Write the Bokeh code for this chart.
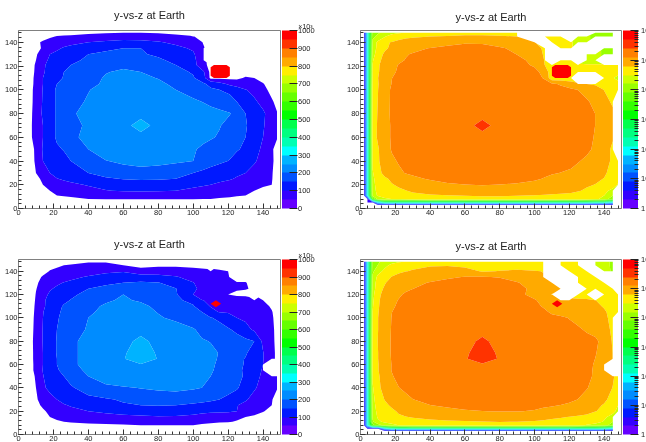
import numpy as np
from bokeh.embed import file_html
from bokeh.resources import INLINE
from bokeh.plotting import figure
from bokeh.layouts import column, row
from bokeh.models import (ColorBar, LinearColorMapper, LogColorMapper, FixedTicker,
                          SingleIntervalTicker, Range1d, Title)

n = float("nan")
TITLE = "y-vs-z at Earth"
EXPONENT = "×10³"
PALETTE = ['#6600ff', '#3300ff', '#0019ff', '#0053ff', '#008cff', '#00b3ff', '#00ffff', '#00ffb3',
           '#00ff80', '#00ff4d', '#00ff00', '#33ff00', '#66ff00', '#99ff00', '#ccff00', '#ffee00',
           '#ffaa00', '#ff8000', '#ff3300', '#ff0000']
linear_ticks = [0, 100, 200, 300, 400, 500, 600, 700, 800, 900, 1000]
log_ticks = [1, 10, 100, 1000, 10000, 100000, 1000000]
log_tick_labels = ["1", "10", "10²", "10³", "10⁴", "10⁵", "10⁶"]

# values in thousands
x_top = [2, 4, 7, 10, 14, 18, 22, 26, 30, 40, 50, 60, 70, 80, 90, 100, 106, 110, 115, 121, 125, 130, 135, 140, 145, 148]
y_top = [3, 5, 8, 11, 15, 20, 25, 30, 40, 50, 60, 70, 80, 90, 100, 105, 110, 115, 121, 125, 130, 135, 140, 145, 148]
z_top = [
    [n, n, n] + [.002] * 22 + [n],
    [n, .002, .002, .05, .2, .2, .2, .2, .2, .2, .2, .2, .2, .2, .2, .2, .2, .2, .2, .2, .2, .2, .15, .15, .05, n],
    [n, .002, 4, 20, 28, 32, 36, 38, 42, 50, 53, 55, 55, 55, 54, 52, 51, 50, 48, 46, 44, 42, 38, 24, 10, n],
    [.002, .1, 20, 35, 42, 47, 50, 53, 56, 60, 62, 64, 66, 66, 64, 62, 60, 58, 56, 54, 52, 50, 44, 32, 16, n],
    [.002, .1, 24, 38, 46, 50, 56, 62, 68, 80, 98, 104, 106, 105, 100, 92, 86, 82, 78, 72, 66, 58, 50, 40, 24, n],
    [.002, .1, 26, 40, 50, 60, 70, 78, 88, 105, 118, 125, 128, 125, 118, 108, 104, 100, 92, 84, 78, 68, 62, 56, 50, 30],
    [.002, .1, 28, 42, 56, 72, 98, 108, 115, 132, 145, 152, 155, 155, 150, 135, 122, 115, 110, 104, 96, 80, 70, 62, 52, 35],
    [.002, .1, 30, 50, 78, 100, 118, 128, 135, 150, 165, 175, 180, 176, 165, 150, 138, 130, 125, 115, 108, 100, 85, 68, 53, 35],
    [.002, .1, 36, 56, 100, 118, 130, 140, 150, 172, 198, 210, 218, 215, 208, 200, 185, 170, 158, 148, 130, 115, 105, 85, 55, 40],
    [.002, .1, 36, 58, 105, 130, 145, 152, 160, 200, 225, 238, 245, 242, 228, 205, 190, 180, 170, 162, 155, 140, 115, 92, 54, 40],
    [.002, .1, 44, 70, 100, 135, 155, 170, 188, 215, 235, 240, 240, 240, 240, 225, 212, 205, 195, 180, 165, 150, 120, 100, 68, 52],
    [.002, .1, 45, 68, 100, 135, 155, 170, 185, 208, 235, 240, 262, 240, 238, 230, 220, 210, 203, 185, 168, 155, 125, 105, 72, 52],
    [.002, .1, 44, 66, 108, 135, 155, 178, 192, 218, 232, 240, 240, 238, 235, 228, 220, 215, 210, 202, 185, 150, 125, 108, 75, 52],
    [.002, .1, 42, 64, 105, 135, 155, 170, 185, 205, 225, 235, 238, 232, 222, 208, 198, 190, 180, 168, 150, 135, 108, 85, 55, 40],
    [.002, .1, 42, 62, 103, 135, 155, 165, 175, 198, 215, 222, 225, 218, 200, 180, 165, 155, 150, 138, 125, 102, 85, 62, 38, 35],
    [.002, .1, 40, 60, 100, 128, 150, 160, 170, 192, 205, 218, 222, 210, 190, 165, 155, 140, 118, 90, 75, 62, 58, 52, 36, 34],
    [.002, .1, 36, 62, 100, 125, 142, 152, 162, 185, 204, 212, 210, 198, 175, 155, 118, 38, 38, 38, 42, 54, 50, 38, 32, 30],
    [.002, .1, 34, 58, 94, 118, 132, 150, 160, 178, 198, 206, 200, 180, 165, 145, 105, 36, 36, 36, 36, 34, 34, 34, 34, 34],
    [.002, .1, 32, 56, 92, 115, 128, 138, 150, 168, 182, 192, 192, 175, 150, 118, 62, 36, 36, 36, 36, 34, 34, 34, 34, 34],
    [.002, .1, 30, 50, 85, 108, 118, 128, 140, 158, 172, 178, 175, 158, 138, 115, 60, n, 36, 36, n, 20, 20, n, n, n],
    [.002, .1, 24, 45, 72, 100, 112, 122, 130, 150, 160, 165, 155, 142, 125, 108, 55, n, n, n, n, 20, 20, 14, 14, n],
    [.002, .1, 22, 38, 55, 75, 92, 105, 112, 128, 140, 150, 150, 132, 115, 92, 52, n, 36, 36, n, n, n, 14, 14, n],
    [.002, .1, 18, 38, 58, 65, 72, 80, 88, 100, 110, 120, 118, 105, 88, 66, 48, 36, 36, 36, 20, 20, n, n, n, n],
    [.002, .1, 14, 18, 30, 45, 52, 56, 58, 63, 66, 70, 70, 68, 63, 52, 35, 36, 36, n, 20, 20, 11, 11, 11, n],
    [.002, .1, 12, 15, 18, 25, 30, 32, 35, 44, 48, 50, 50, 48, 40, n, n, n, n, n, n, n, 11, 11, 11, n],
]
log_blank_top = [(148, 50), (148, 60), (148, 70), (148, 80), (148, 90), (100, 145), (106, 140),
                 (125, 110), (130, 110), (135, 110)]
hot_x_top = [110, 112, 119, 121]
hot_y_top = [110, 112, 119, 121]
hot_z_top = [[0, 1000, 1000, 0], [1000, 1000, 1000, 1000], [1000, 1000, 1000, 1000], [0, 1000, 1000, 0]]

x_bot = [2, 4, 7, 10, 14, 18, 22, 26, 30, 40, 50, 60, 70, 80, 90, 100, 105, 110, 115, 120, 125, 130, 135, 140, 145, 148]
y_bot = [3, 5, 8, 11, 15, 20, 25, 30, 40, 50, 55, 60, 65, 70, 80, 90, 100, 105, 110, 115, 120, 125, 130, 135, 140, 145, 148]
z_bot = [
    [n, n, n, n] + [.002] * 21 + [n],
    [n, .002, .002, .002, .05, .15] + [.2] * 17 + [.15, .05, n],
    [.002, .1, 6, 12, 20, 26, 32, 36, 40, 44, 46, 48, 50, 52, 52, 50, 46, 44, 42, 40, 36, 30, 26, 20, 12, n],
    [.002, .1, 14, 28, 36, 42, 46, 50, 53, 56, 58, 60, 62, 64, 63, 60, 58, 55, 53, 52, 48, 46, 40, 30, 16, n],
    [.002, .1, 20, 34, 42, 50, 58, 62, 65, 72, 80, 88, 92, 96, 94, 85, 76, 70, 66, 62, 56, 50, 44, 36, 24, n],
    [.002, .1, 22, 38, 46, 56, 68, 78, 85, 100, 112, 120, 125, 128, 128, 122, 115, 112, 110, 108, 100, 85, 65, 52, 40, 25],
    [.002, .1, 24, 42, 55, 70, 85, 95, 105, 125, 135, 145, 150, 152, 150, 142, 135, 130, 125, 115, 102, 88, 72, 60, 50, 32],
    [.002, .1, 26, 45, 65, 85, 100, 115, 125, 138, 145, 155, 165, 172, 175, 168, 165, 158, 150, 140, 125, 105, 85, 70, 52, 38],
    [.002, .1, 30, 50, 92, 112, 125, 135, 145, 170, 188, 195, 202, 208, 212, 205, 200, 192, 175, 165, 155, 130, 105, 85, 62, 52],
    [.002, .1, 35, 55, 98, 122, 140, 150, 165, 200, 228, 242, 240, 232, 222, 210, 206, 200, 192, 170, 160, 145, 115, 92, 68, 52],
    [.002, .1, 40, 60, 102, 128, 145, 162, 180, 210, 235, 245, 248, 242, 232, 218, 210, 205, 190, 172, 162, 142, 118, 96, n, n],
    [.002, .1, 40, 60, 100, 128, 150, 168, 188, 218, 240, 240, 248, 240, 240, 225, 212, 205, 195, 178, 165, 145, 120, 100, n, n],
    [.002, .1, 40, 62, 100, 130, 150, 165, 190, 215, 245, 248, 270, 248, 235, 222, 212, 205, 198, 175, 160, 148, 125, 102, 62, 42],
    [.002, .1, 40, 62, 100, 132, 152, 168, 188, 218, 240, 245, 270, 245, 240, 228, 218, 210, 198, 182, 170, 155, 130, 102, 62, 42],
    [.002, .1, 40, 64, 102, 132, 152, 165, 190, 215, 238, 240, 258, 240, 232, 215, 205, 198, 188, 178, 168, 160, 150, 90, 60, 40],
    [.002, .1, 38, 62, 102, 130, 150, 165, 178, 205, 225, 238, 240, 232, 222, 205, 185, 175, 165, 155, 140, 115, 92, 75, 58, 40],
    [.002, .1, 34, 62, 100, 128, 148, 155, 168, 200, 215, 225, 222, 205, 190, 168, 160, 152, 142, 122, 100, 92, 82, 70, 55, 38],
    [.002, .1, 32, 60, 98, 125, 145, 155, 165, 195, 208, 218, 215, 198, 182, 158, 150, 112, 98, 95, 90, 85, 78, 68, 52, 38],
    [.002, .1, 30, 58, 92, 118, 135, 155, 165, 190, 205, 215, 210, 190, 175, 155, 118, 98, 92, 88, 84, 80, 72, 60, 46, 36],
    [.002, .1, 28, 55, 92, 115, 128, 140, 152, 172, 195, 205, 195, 178, 160, 135, 102, 92, 88, 80, 76, 72, 64, 50, 36, 34],
    [.002, .1, 26, 52, 82, 108, 120, 132, 140, 165, 185, 200, 190, 175, 155, 100, 72, 62, 58, 50, 40, 40, n, 34, 34, 34],
    [.002, .1, 22, 48, 70, 95, 108, 118, 125, 150, 162, 172, 175, 165, 152, 108, 90, 75, 66, 58, 56, 52, 46, 36, 36, n],
    [.002, .1, 20, 45, 60, 82, 92, 102, 110, 130, 142, 150, 155, 152, 130, 102, 82, 70, 60, 55, 52, 52, 36, 36, n, n],
    [.002, .1, 18, 38, 54, 64, 72, 80, 88, 105, 118, 128, 130, 122, 105, 78, 66, 62, 56, 52, 36, 36, 36, n, n, n],
    [.002, .1, 14, 24, 38, 52, 58, 62, 66, 78, 90, 95, 58, 65, 70, 66, 62, 58, 55, 50, 36, 36, n, 22, 14, n],
    [.002, .1, 12, 16, 26, 38, 44, 50, 54, 60, 60, 50, 44, 45, 44, 38, 36, n, 36, 36, 36, n, 22, 20, 14, n],
    [.002, .1, 12, 15, 18, 25, 30, 32, 36, 48, 48, 42, 40, 38, 36, 36, 36, n, 36, 36, 36, n, 22, 20, 14, n],
]
log_blank_bot = [(115, 120), (120, 120), (115, 130), (148, 65), (148, 70), (148, 80), (148, 90), (148, 100),
                 (110, 140), (115, 140), (110, 135), (115, 135), (120, 135), (120, 130), (125, 125)]
hot_x_bot = [110, 113, 116]
hot_y_bot = [109, 112, 115]
hot_z_bot = [[0, 951, 0], [951, 1000, 951], [0, 951, 0]]

FONT = "Liberation Sans"
TEXT = "#222222"


def panel(x, y, z, hx, hy, hz, log, blanks, top_border, bottom_border, left_border, right_border, width):
    p = figure(width=width, height=top_border + FRAME_H[top_border] + bottom_border,
               x_range=Range1d(0, 150), y_range=Range1d(0, 150),
               output_backend="svg", toolbar_location=None, title=TITLE,
               min_border_top=top_border, min_border_bottom=bottom_border,
               min_border_left=left_border, min_border_right=right_border,
               background_fill_color="white", border_fill_color="white")
    p.margin = 0
    p.title.align = "center"
    p.title.text_font = FONT
    p.title.text_font_size = "11px"
    p.title.text_font_style = "normal"
    p.title.text_color = TEXT
    p.title.standoff = 15 if log else 0
    p.grid.visible = False
    p.outline_line_color = "#808080"
    for ax in (p.xaxis[0], p.yaxis[0]):
        ax.ticker = SingleIntervalTicker(interval=20, num_minor_ticks=5)
        ax.major_tick_in = 5
        ax.major_tick_out = 0
        ax.minor_tick_in = 3
        ax.minor_tick_out = 0
        ax.major_label_standoff = 1
        ax.major_label_text_font = FONT
        ax.major_label_text_font_size = "7.5px"
        ax.major_label_text_color = TEXT
        ax.axis_line_color = "#808080"
        ax.major_tick_line_color = "#333333"
        ax.minor_tick_line_color = "#333333"
    p.yaxis[0].major_label_orientation = "horizontal"

    zz = np.array(z, dtype=float)
    if log:
        for bx, by in blanks:
            zz[y.index(by), x.index(bx)] = np.nan
        field = np.log10(zz * 1000.0)
        levels = [0.3 * i for i in range(21)]
        colors = PALETTE
    else:
        field = zz
        levels = [50 * i for i in range(1, 21)]
        colors = PALETTE[1:]
    p.contour(x, y, np.ma.masked_invalid(field), levels, fill_color=colors, line_color=None)
    p.contour(hx, hy, np.array(hz, dtype=float), [950, 1001], fill_color=["#ff0000"], line_color=None)

    fw = width - left_border - right_border
    fh = FRAME_H[top_border]
    if log:
        mapper = LogColorMapper(palette=PALETTE, low=1, high=1000000)
        labels = dict(zip(log_ticks, log_tick_labels))
        ticker = FixedTicker(ticks=log_ticks, minor_ticks=[m * d for d in log_ticks[:-1] for m in range(2, 10)])
        standoff = 3
    else:
        mapper = LinearColorMapper(palette=PALETTE, low=0, high=1000)
        labels = {t: str(t) for t in linear_ticks}
        ticker = FixedTicker(ticks=linear_ticks)
        standoff = 1
        p.add_layout(Title(text=EXPONENT, align="right", offset=-32, standoff=1, text_font=FONT,
                           text_font_size="7px", text_font_style="normal", text_color=TEXT), "above")
    cb = ColorBar(color_mapper=mapper, ticker=ticker, major_label_overrides=labels,
                  location=(fw + 1.5, 0), width=15, height=fh, padding=0, margin=0,
                  major_label_text_font=FONT, major_label_text_font_size="7.5px",
                  major_label_text_color=TEXT, label_standoff=standoff,
                  major_tick_in=8, major_tick_out=0, major_tick_line_color="#222222",
                  minor_tick_in=4, minor_tick_out=0, minor_tick_line_color="#222222",
                  bar_line_color=None, border_line_color=None, background_fill_color=None)
    p.add_layout(cb)
    return p


FRAME_H = {30: 178, 38: 175}
p1 = panel(x_top, y_top, z_top, hot_x_top, hot_y_top, hot_z_top, False, [], 30, 13, 18, 43, 323)
p2 = panel(x_top, y_top, z_top, hot_x_top, hot_y_top, hot_z_top, True, log_blank_top, 30, 13, 37, 25, 323)
p3 = panel(x_bot, y_bot, z_bot, hot_x_bot, hot_y_bot, hot_z_bot, False, [], 38, 13, 18, 43, 323)
p4 = panel(x_bot, y_bot, z_bot, hot_x_bot, hot_y_bot, hot_z_bot, True, log_blank_bot, 38, 13, 37, 25, 323)

page = column(row(p1, p2, spacing=0, margin=0), row(p3, p4, spacing=0, margin=0), spacing=0, margin=0,
              stylesheets=[":host{position:fixed !important;left:0;top:0;}"])
open("out.html", "w").write(file_html(page, INLINE))
